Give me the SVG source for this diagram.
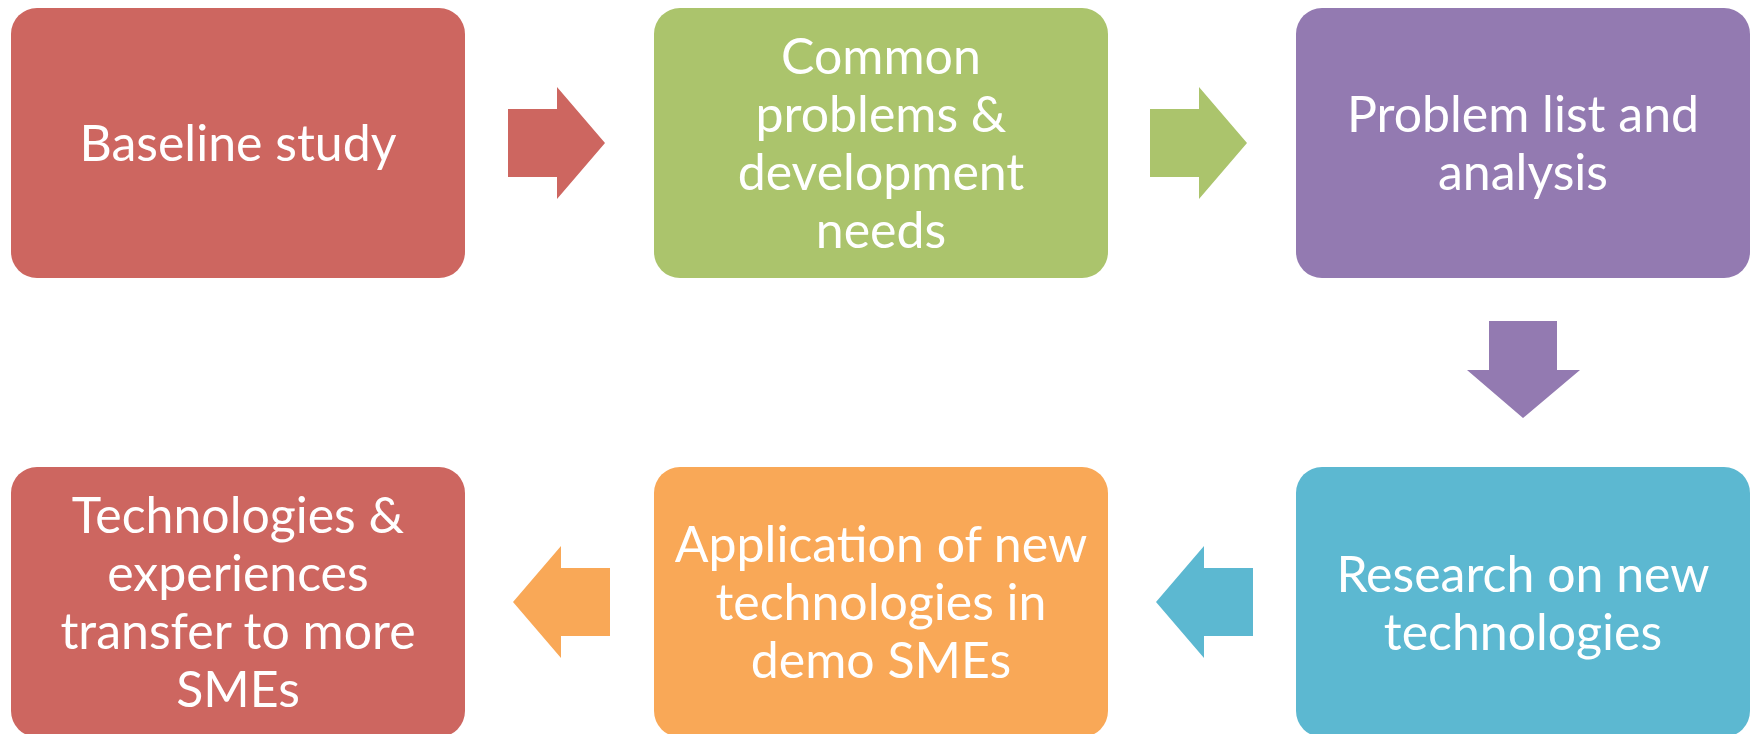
<svg xmlns="http://www.w3.org/2000/svg" width="1752" height="734" viewBox="0 0 1752 734">
<style>
.box{stroke:none}
.t{font-family:Lato,"Open Sans","Liberation Sans",sans-serif;font-size:50px;fill:#ffffff;text-anchor:middle}
</style>
<rect width="1752" height="734" fill="#ffffff"/>
<g id="connectors">
<polygon fill="#CD6660" points="508,109 557,109 557,87 605,143 557,199 557,177 508,177"/>
<polygon fill="#ABC46C" points="1150,109 1199,109 1199,87 1247,143 1199,199 1199,177 1150,177"/>
<polygon fill="#937AB1" points="1489,321 1557,321 1557,370 1580,370 1523,418 1467,370 1489,370"/>
<polygon fill="#5CB8D1" points="1253,568 1204,568 1204,546 1156,602 1204,658 1204,636 1253,636"/>
<polygon fill="#F9A857" points="610,568 561,568 561,546 513,602 561,658 561,636 610,636"/>
</g>
<g id="n1"><rect class="box" x="11" y="8" width="454" height="270" rx="26" fill="#CD6660"/>
<text class="t" x="238" y="161">Baseline study</text></g>
<g id="n2"><rect class="box" x="654" y="8" width="454" height="270" rx="26" fill="#ABC46C"/>
<text class="t" x="881" y="74">Common</text><text class="t" x="881" y="132">problems &amp;</text><text class="t" x="881" y="190">development</text><text class="t" x="881" y="248">needs</text></g>
<g id="n3"><rect class="box" x="1296" y="8" width="454" height="270" rx="26" fill="#937AB1"/>
<text class="t" x="1523" y="132">Problem list and</text><text class="t" x="1523" y="190">analysis</text></g>
<g id="n4"><rect class="box" x="1296" y="467" width="454" height="270" rx="26" fill="#5CB8D1"/>
<text class="t" x="1523" y="592">Research on new</text><text class="t" x="1523" y="650">technologies</text></g>
<g id="n5"><rect class="box" x="654" y="467" width="454" height="270" rx="26" fill="#F9A857"/>
<text class="t" x="881" y="562">Application of new</text><text class="t" x="881" y="620">technologies in</text><text class="t" x="881" y="678">demo SMEs</text></g>
<g id="n6"><rect class="box" x="11" y="467" width="454" height="270" rx="26" fill="#CD6660"/>
<text class="t" x="238" y="533">Technologies &amp;</text><text class="t" x="238" y="591">experiences</text><text class="t" x="238" y="649">transfer to more</text><text class="t" x="238" y="707">SMEs</text></g>
</svg>
